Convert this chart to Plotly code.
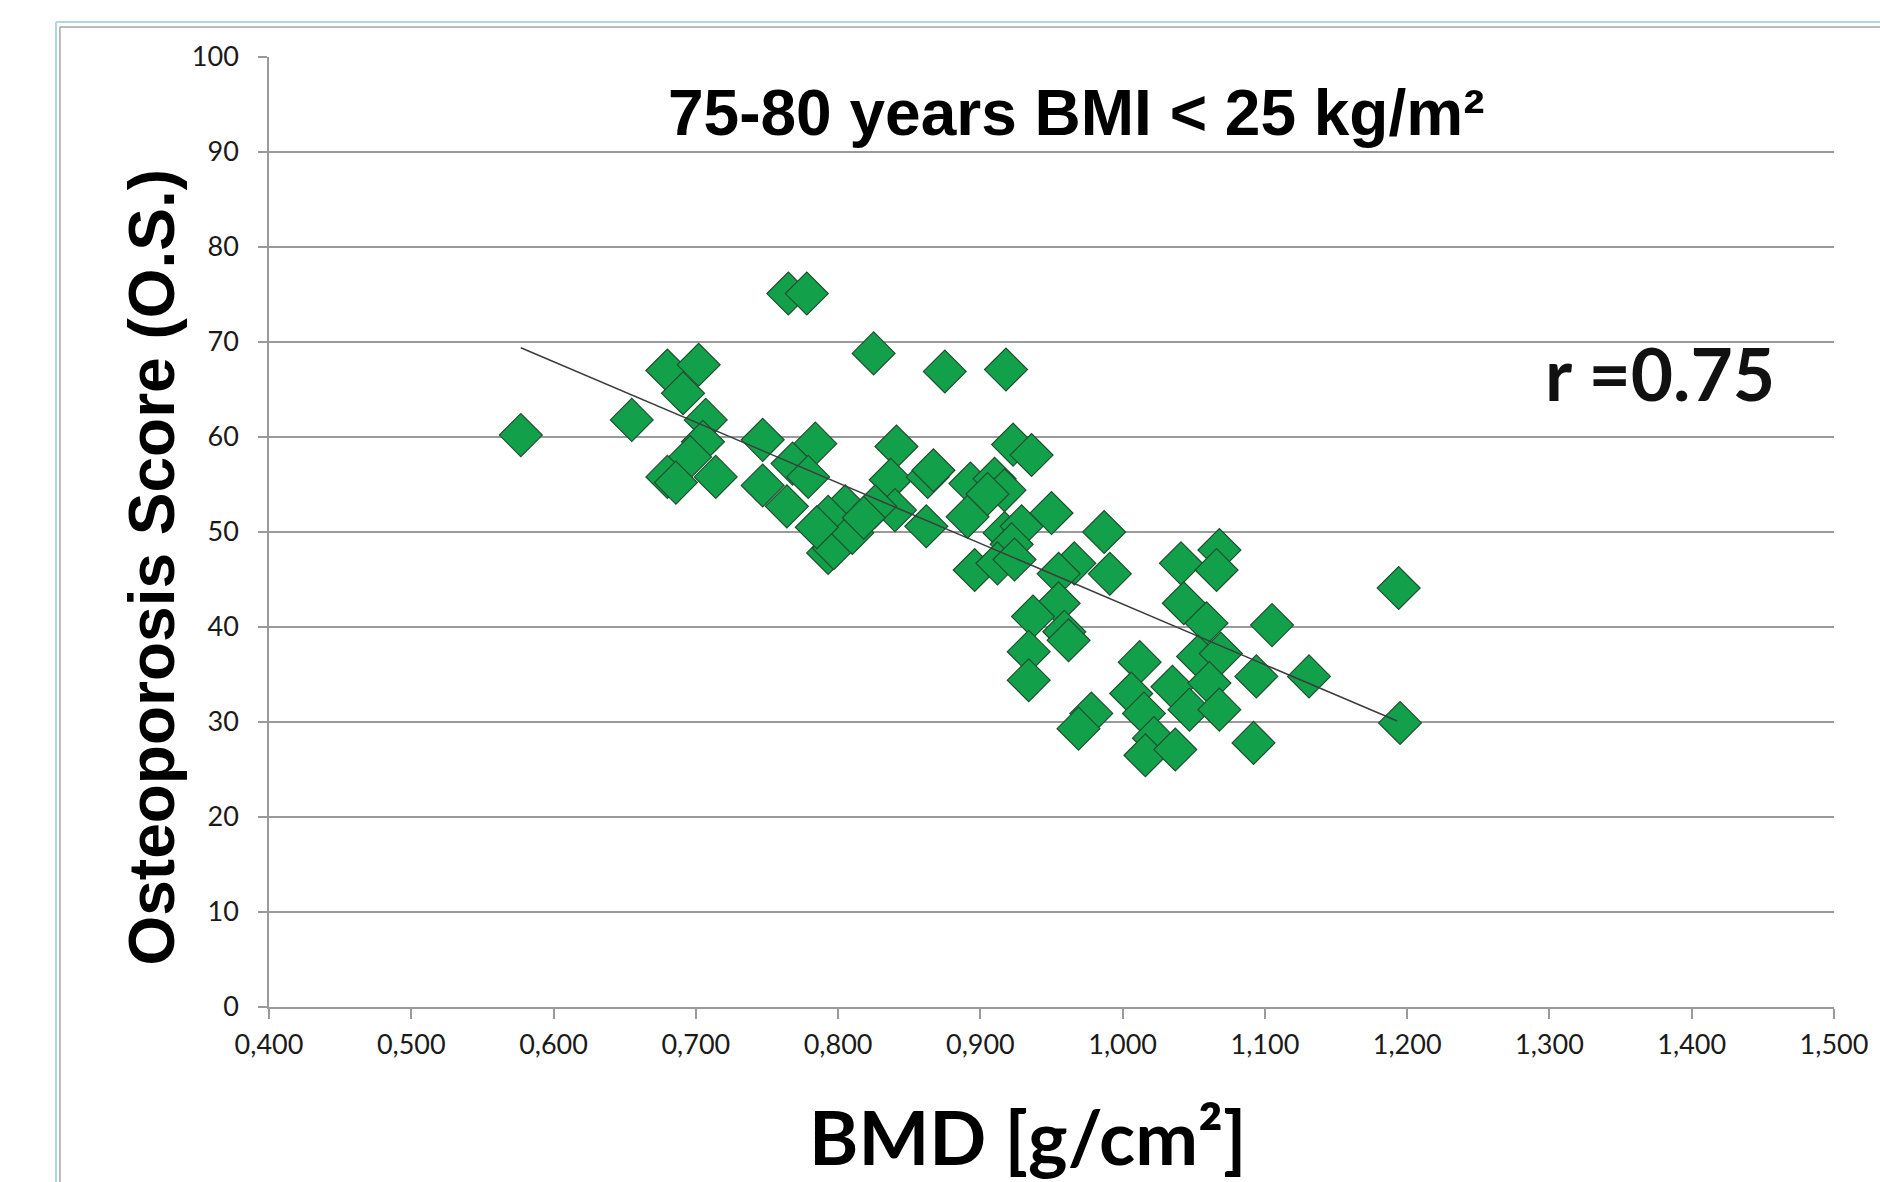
import plotly.graph_objects as go

# ---- data ----
bmd = [0.577, 0.655, 0.680, 0.702, 0.691, 0.707, 0.705, 0.696, 0.680, 0.686,
       0.714, 0.747, 0.747, 0.765, 0.778, 0.784, 0.768, 0.779, 0.764, 0.825,
       0.875, 0.841, 0.837, 0.863, 0.867, 0.840, 0.862, 0.805, 0.793, 0.793,
       0.797, 0.810, 0.785, 0.826, 0.893, 0.891, 0.896, 0.918, 0.923, 0.936,
       0.910, 0.917, 0.905, 0.917, 0.929, 0.922, 0.912, 0.924, 0.950, 0.987,
       0.966, 0.955, 0.991, 0.955, 0.937, 0.959, 0.962, 0.934, 0.934, 1.041,
       1.068, 1.066, 1.043, 1.059, 1.105, 1.053, 1.069, 1.012, 1.094, 1.131,
       1.006, 1.035, 1.015, 0.978, 0.969, 1.022, 1.016, 1.037, 1.047, 1.061,
       1.068, 1.092, 1.194, 1.195, 0.818]
score = [60.2, 61.8, 67.0, 67.6, 64.6, 61.8, 59.5, 57.9, 55.8, 55.2,
         55.8, 59.7, 54.9, 75.1, 75.1, 59.3, 57.2, 55.8, 52.7, 68.8,
         66.9, 59.0, 55.5, 55.8, 56.5, 52.3, 50.6, 52.7, 51.6, 47.8,
         48.3, 49.9, 50.5, 52.7, 55.1, 51.6, 46.0, 67.1, 59.2, 58.1,
         55.6, 54.4, 54.0, 49.9, 50.6, 48.7, 46.7, 47.1, 52.0, 50.0,
         46.7, 45.6, 45.6, 42.5, 41.1, 39.5, 38.6, 37.4, 34.4, 46.7,
         48.1, 46.0, 42.5, 40.4, 40.2, 36.9, 37.2, 36.3, 34.8, 34.8,
         33.0, 33.7, 30.9, 30.9, 29.3, 28.3, 26.5, 27.1, 31.3, 34.1,
         31.3, 27.8, 44.1, 29.9, 51.5]

trend_x = [0.577, 1.193]
trend_y = [69.4, 30.1]

x_ticks = [0.4, 0.5, 0.6, 0.7, 0.8, 0.9, 1.0, 1.1, 1.2, 1.3, 1.4, 1.5]
x_tick_labels = ["0,400", "0,500", "0,600", "0,700", "0,800", "0,900",
                 "1,000", "1,100", "1,200", "1,300", "1,400", "1,500"]
y_ticks = [0, 10, 20, 30, 40, 50, 60, 70, 80, 90, 100]

title_text = "75-80 years BMI &lt; 25 kg/m²"
r_text = "r =0.75"
x_title = "BMD [g/cm²]"
y_title = "Osteoporosis Score (O.S.)"

# ---- layout geometry (window pixels; body margin removed by post_script) ----
W, H = 1880, 1182
PLOT_L, PLOT_R, PLOT_T, PLOT_B = 269, 1841, 57, 1007
L, T = PLOT_L, PLOT_T
R, B = W - PLOT_R, H - PLOT_B
PW, PH = PLOT_R - PLOT_L, PLOT_B - PLOT_T


def px(xp):
    return (xp - PLOT_L) / PW


def py(yp):
    return (PLOT_B - yp) / PH


fig = go.Figure()
fig.add_trace(go.Scatter(
    x=bmd, y=score, mode="markers",
    marker=dict(symbol="diamond", size=33, color="#12a04b",
                line=dict(color="#1f4f2e", width=1.2)),
    showlegend=False, hoverinfo="x+y"))
fig.add_trace(go.Scatter(
    x=trend_x, y=trend_y, mode="lines",
    line=dict(color="#3c3c3c", width=1.5),
    showlegend=False, hoverinfo="skip"))

grid_col = "#9a9a9a"
tick_font = dict(family="Lato", size=27, color="#1a1a1a")

fig.update_xaxes(range=[0.4, 1.5], tickvals=x_ticks, ticktext=x_tick_labels,
                 showgrid=False, zeroline=False, showline=True,
                 linecolor=grid_col, linewidth=1.5, ticks="outside",
                 ticklen=10, tickcolor=grid_col, tickwidth=1.5,
                 tickfont=tick_font, ticklabelstandoff=3,
                 ticklabeloverflow="allow")
fig.update_yaxes(range=[0, 100], tickvals=y_ticks, showgrid=True,
                 gridcolor=grid_col, gridwidth=1.5, zeroline=False,
                 showline=True, linecolor=grid_col, linewidth=1.5,
                 ticks="outside", ticklen=9, tickcolor=grid_col,
                 tickwidth=1.5, tickfont=tick_font, ticklabelstandoff=14)

annotations = [
    dict(text=title_text, x=px(1080), y=py(113), xref="paper", yref="paper",
         showarrow=False, xanchor="center", yanchor="middle",
         font=dict(family="Liberation Sans", size=64, color="#000000",
                   weight="bold")),
    dict(text=r_text, x=px(1666), y=py(373), xref="paper", yref="paper",
         showarrow=False, xanchor="center", yanchor="middle",
         font=dict(family="Lato", size=73, color="#111111", weight="bold")),
    dict(text=x_title, x=px(1031), y=py(1136), xref="paper", yref="paper",
         showarrow=False, xanchor="center", yanchor="middle",
         font=dict(family="Lato", size=75, color="#000000", weight="bold")),
    dict(text=y_title, x=px(151), y=py(567), xref="paper", yref="paper",
         showarrow=False, xanchor="center", yanchor="middle", textangle=-90,
         font=dict(family="Liberation Sans", size=64, color="#000000",
                   weight="bold")),
]

shapes = [
    # outer light-blue frame (left and top)
    dict(type="line", xref="paper", yref="paper", x0=px(55), x1=px(55),
         y0=py(22), y1=py(1200), line=dict(color="#aad9de", width=2)),
    dict(type="line", xref="paper", yref="paper", x0=px(55), x1=px(1900),
         y0=py(22), y1=py(22), line=dict(color="#aad9de", width=2)),
    # inner grey frame
    dict(type="line", xref="paper", yref="paper", x0=px(59), x1=px(59),
         y0=py(27), y1=py(1200), line=dict(color="#a6a6a6", width=1.5)),
    dict(type="line", xref="paper", yref="paper", x0=px(59), x1=px(1900),
         y0=py(27), y1=py(27), line=dict(color="#a6a6a6", width=1.5)),
]

fig.update_layout(width=W, height=H,
                  margin=dict(l=L, r=R, t=T, b=B, pad=0),
                  paper_bgcolor="white", plot_bgcolor="white",
                  annotations=annotations, shapes=shapes)

fig.write_html("out.html",
               config={"displayModeBar": False},
               post_script="document.body.style.margin='0';"
                           "document.body.style.overflow='hidden';")
